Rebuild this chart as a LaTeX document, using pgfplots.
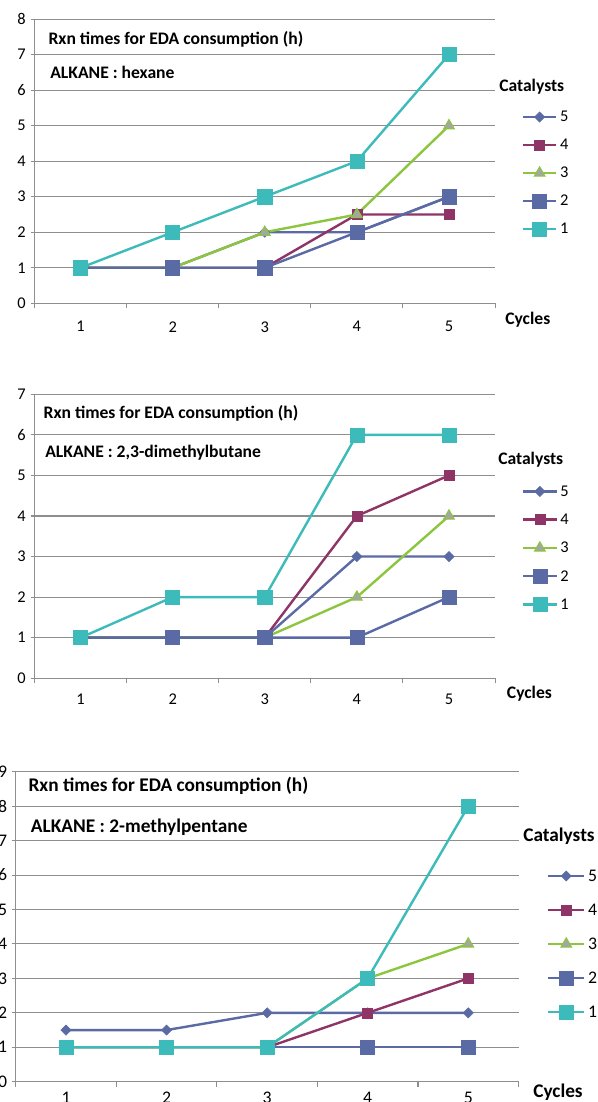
\documentclass[border=0pt]{standalone}
\usepackage{fontspec}
\setmainfont{Carlito}
\usepackage{pgfplots}
\pgfplotsset{compat=1.18}
\definecolor{cBlue}{HTML}{5A6AA4}
\definecolor{cMaroon}{HTML}{8E3467}
\definecolor{cGreen}{HTML}{8CC63E}
\definecolor{cTeal}{HTML}{3DBBBB}
\definecolor{cGrey}{HTML}{A5A5A5}
\definecolor{gridc}{HTML}{8E8E8E}
\pgfplotsset{
  panel/.style={
    scale only axis, clip=false,
    axis x line*=bottom, axis y line*=left,
    axis line style={gridc, line width=0.8pt},
    xmin=0.5, xmax=5.5, ymin=0,
    xtick={1,2,3,4,5},
    minor xtick={0.5,1.5,2.5,3.5,4.5,5.5},
    ytick distance=1,
    ymajorgrids, grid style={gridc, line width=0.8pt},
    tick align=outside,
    major tick length=3pt, minor tick length=3.75pt,
    tick style={gridc, line width=0.8pt},
    major x tick style={draw=none},
    /pgf/number format/assume math mode=true,
    tick label style={black},
    legend cell align=left,
    legend style={draw=none, fill=none, inner sep=0pt, outer sep=0pt, anchor=west, column sep=2pt},
  },
  s5/.style={cBlue, line width=1.8pt, mark=square*, mark size=2.7pt, mark options={rotate=45, fill=cBlue, line width=0.4pt}},
  s4/.style={cMaroon, line width=1.8pt, mark=square*, mark size=3.7pt, mark options={fill=cMaroon, line width=0.4pt}},
  s3/.style={cGreen, line width=1.8pt, mark=triangle*, mark size=4.6pt, mark options={fill=cGrey, draw=cGreen, line width=0.8pt}},
  s2/.style={cBlue, line width=1.8pt, mark=square*, mark size=5.3pt, mark options={fill=cBlue, line width=0.4pt}},
  s1/.style={cTeal, line width=1.8pt, mark=square*, mark size=5.3pt, mark options={fill=cTeal, line width=0.4pt}},
}
\tikzset{lab/.style={anchor=base west, inner sep=0pt, font=\bfseries\fontsize{13.2}{15}\selectfont},
         labb/.style={anchor=base west, inner sep=0pt, font=\bfseries\fontsize{14.5}{16}\selectfont}}
\begin{document}
\begin{tikzpicture}
% ---------------- Panel 1: hexane
\begin{axis}[panel,
  at={(25.875pt,599.0pt)}, anchor=south west,
  width=345.4pt, height=213.2pt, ymax=8,
  tick label style={font=\fontsize{12.3}{14}\selectfont},
  xticklabel style={yshift=-7pt},
  legend image code/.code={\draw[mark repeat=2,mark phase=2,#1] plot coordinates {(0pt,0pt) (12.5pt,0pt) (25pt,0pt)};},
  legend style={at={(1.058,0.4583)}, font=\fontsize{12.3}{14}\selectfont, row sep=9pt,
    nodes={inner sep=0pt, text height=9.6pt, text depth=2.4pt}},
]
\addplot[s5] coordinates {(1,1) (2,1) (3,2) (4,2) (5,3)}; \addlegendentry{5}
\addplot[s4] coordinates {(1,1) (2,1) (3,1) (4,2.5) (5,2.5)}; \addlegendentry{4}
\addplot[s3] coordinates {(1,1) (2,1) (3,2) (4,2.5) (5,5)}; \addlegendentry{3}
\addplot[s2] coordinates {(1,1) (2,1) (3,1) (4,2) (5,3)}; \addlegendentry{2}
\addplot[s1] coordinates {(1,1) (2,2) (3,3) (4,4) (5,7)}; \addlegendentry{1}
\end{axis}
\node[lab] at (36.2pt,792.75pt) {Rxn times for EDA consumption (h)};
\node[lab] at (37.5pt,767.8pt) {ALKANE : hexane};
\node[lab] at (374.25pt,757.7pt) {Catalysts};
\node[lab] at (378.75pt,582.75pt) {Cycles};
% ---------------- Panel 2: 2,3-dimethylbutane
\begin{axis}[panel,
  at={(25.875pt,317.8pt)}, anchor=south west,
  width=345.4pt, height=213.0pt, ymax=7,
  tick label style={font=\fontsize{12.3}{14}\selectfont},
  xticklabel style={yshift=-5.5pt},
  legend image code/.code={\draw[mark repeat=2,mark phase=2,#1] plot coordinates {(0pt,0pt) (12.5pt,0pt) (25pt,0pt)};},
  legend style={at={(1.0586,0.4588)}, font=\fontsize{12.3}{14}\selectfont, row sep=9.2pt,
    nodes={inner sep=0pt, text height=9.6pt, text depth=2.4pt}},
]
\addplot[s5] coordinates {(1,1) (2,1) (3,1) (4,3) (5,3)}; \addlegendentry{5}
\addplot[s4] coordinates {(1,1) (2,1) (3,1) (4,4) (5,5)}; \addlegendentry{4}
\addplot[s3] coordinates {(1,1) (2,1) (3,1) (4,2) (5,4)}; \addlegendentry{3}
\addplot[s2] coordinates {(1,1) (2,1) (3,1) (4,1) (5,2)}; \addlegendentry{2}
\addplot[s1] coordinates {(1,1) (2,2) (3,2) (4,6) (5,6)}; \addlegendentry{1}
\end{axis}
\node[lab] at (32.5pt,512.25pt) {Rxn times for EDA consumption (h)};
\node[lab] at (33.75pt,483.5pt) {ALKANE : 2,3-dimethylbutane};
\node[lab] at (373.5pt,477.75pt) {Catalysts};
\node[lab] at (380pt,302.8pt) {Cycles};
% ---------------- Panel 3: 2-methylpentane
\begin{axis}[panel,
  at={(11.8pt,15.2pt)}, anchor=south west,
  width=377.1pt, height=232.5pt, ymax=9,
  tick label style={font=\fontsize{13.3}{15}\selectfont},
  xticklabel style={yshift=-1pt},
  legend image code/.code={\draw[mark repeat=2,mark phase=2,#1] plot coordinates {(0pt,0pt) (13.5pt,0pt) (27pt,0pt)};},
  legend style={at={(1.0567,0.4442)}, font=\fontsize{13.3}{15}\selectfont, row sep=12.5pt,
    nodes={inner sep=0pt, text height=10.4pt, text depth=2.6pt}},
]
\addplot[s5] coordinates {(1,1.5) (2,1.5) (3,2) (4,2) (5,2)}; \addlegendentry{5}
\addplot[s4] coordinates {(1,1) (2,1) (3,1) (4,2) (5,3)}; \addlegendentry{4}
\addplot[s3] coordinates {(1,1) (2,1) (3,1) (4,3) (5,4)}; \addlegendentry{3}
\addplot[s2] coordinates {(1,1) (2,1) (3,1) (4,1) (5,1)}; \addlegendentry{2}
\addplot[s1] coordinates {(1,1) (2,1) (3,1) (4,3) (5,8)}; \addlegendentry{1}
\end{axis}
\node[labb] at (21.2pt,232.7pt) {Rxn times for EDA consumption (h)};
\node[labb] at (23.0pt,202.0pt) {ALKANE : 2-methylpentane};
\node[labb] at (392.25pt,195.3pt) {Catalysts};
\node[labb] at (399.75pt,3.5pt) {Cycles};
\pgfresetboundingbox
\path[use as bounding box] (0pt,0pt) rectangle (447.75pt,826.5pt);
\end{tikzpicture}
\end{document}
